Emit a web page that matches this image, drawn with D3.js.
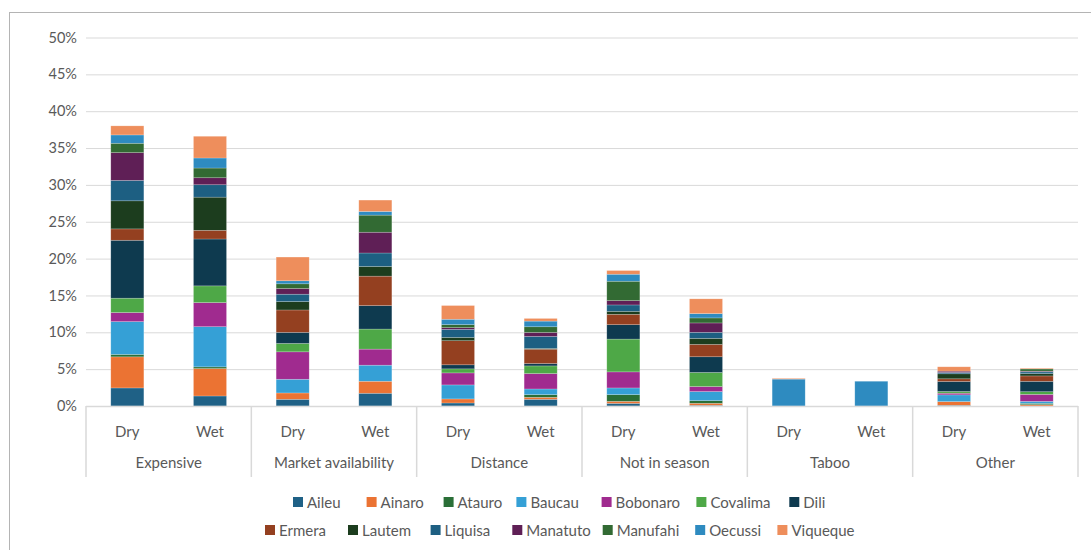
<!DOCTYPE html>
<html><head><meta charset="utf-8">
<script src="https://cdn.jsdelivr.net/npm/d3@7"></script>
<style>
html,body{margin:0;padding:0;background:#fff;}
svg text{font-family:Lato,"Noto Sans",sans-serif;fill:#595959;}
</style></head>
<body><svg id="chart" width="1091" height="550"></svg>
<script>
// ---- data (percent of respondents) ----
const reasons = ["Expensive","Market availability","Distance","Not in season","Taboo","Other"];
const seasons = ["Dry","Wet"];
const yTicks = [0,5,10,15,20,25,30,35,40,45,50];
const regions = ["Aileu","Ainaro","Atauro","Baucau","Bobonaro","Covalima","Dili","Ermera","Lautem","Liquisa","Manatuto","Manufahi","Oecussi","Viqueque"];
// each array: Expensive Dry, Wet, Market Dry, Wet, Distance Dry, Wet, Not in season Dry, Wet, Taboo Dry, Wet, Other Dry, Wet
const Aileu    = [2.45,1.36,0.91,1.73,0.41,0.91,0.36,0.10,0,0,0.10,0];
const Ainaro   = [4.22,3.72,0.86,1.63,0.55,0.27,0.27,0.27,0,0,0.50,0.18];
const Atauro   = [0.33,0.23,0,0,0,0.36,0.91,0.36,0,0,0,0.18];
const Baucau   = [4.45,5.45,1.86,2.18,1.90,0.77,0.91,1.23,0,0,0.91,0.27];
const Bobonaro = [1.23,3.27,3.72,2.18,1.63,2.09,2.18,0.68,0,0,0.23,0.95];
const Covalima = [1.95,2.27,1.14,2.72,0.55,1.04,4.45,1.91,0,0,0.23,0.36];
const Dili     = [7.86,6.36,1.50,3.18,0.55,0.32,1.95,2.13,0,0,1.36,1.41];
const Ermera   = [1.54,1.18,3.04,4.00,3.27,1.95,1.41,1.68,0,0,0.36,0.73];
const Lautem   = [3.81,4.50,1.14,1.32,0.45,0.10,0.41,0.82,0,0,0.68,0.32];
const Liquisa  = [2.77,1.68,1.00,1.82,1.09,1.63,0.86,0.82,0,0,0.18,0.23];
const Manatuto = [3.77,0.95,0.77,2.82,0.23,0.54,0.59,1.27,0,0,0.18,0.10];
const Manufahi = [1.27,1.32,0.64,2.32,0.41,0.77,2.63,0.68,0,0,0,0.30];
const Oecussi  = [1.13,1.36,0.41,0.50,0.73,0.77,0.95,0.59,3.65,3.36,0,0];
const Viqueque = [1.23,2.95,3.22,1.54,1.86,0.36,0.50,2.00,0.10,0,0.59,0.10];
const seriesValues = [Aileu,Ainaro,Atauro,Baucau,Bobonaro,Covalima,Dili,Ermera,Lautem,Liquisa,Manatuto,Manufahi,Oecussi,Viqueque];
const colors = ["#1f6186","#eb7333","#2a6f37","#35a0d6","#a02b8f","#4ea847","#0e3a4f","#944020","#1c3d1e","#1d5f82","#5f1f56","#326a33","#2e8bc0","#ee8e5c"];

// ---- layout ----
const svg = d3.select("#chart");
const plot = {left:86, right:1078, top:37.5, bottom:406};

// frame
svg.append("rect").attr("x",9.5).attr("y",12.5).attr("width",1200).attr("height",600)
  .attr("fill","none").attr("stroke","#b4b4b4").attr("stroke-width",1);

const y = d3.scaleLinear().domain([0,50]).range([plot.bottom, plot.top]);
const x0 = d3.scaleBand().domain(reasons).range([plot.left, plot.right]).padding(0);
const x1 = d3.scaleBand().domain(seasons).range([0, x0.bandwidth()]).paddingInner(0.6).paddingOuter(0.3);

// gridlines + y labels
const yAxis = d3.axisLeft(y).tickValues(yTicks).tickSize(-(plot.right-plot.left)).tickPadding(9)
  .tickFormat(d => d + "%");
const gy = svg.append("g").attr("transform",`translate(${plot.left},0)`).call(yAxis);
gy.select(".domain").remove();
gy.selectAll(".tick line").attr("stroke","#d9d9d9").attr("stroke-width",1);
gy.selectAll(".tick text").attr("font-size","14.5px").style("fill","#595959");

// stacked data
const rows = [];
reasons.forEach((r,i) => seasons.forEach((s,j) => {
  const row = {reason:r, season:s};
  regions.forEach((g,k) => row[g] = seriesValues[k][i*2+j]);
  rows.push(row);
}));
const stack = d3.stack().keys(regions)(rows);

const bars = svg.append("g");
stack.forEach((layer,k) => {
  bars.append("g").attr("fill",colors[k])
    .selectAll("rect").data(layer).join("rect")
    .attr("x", d => x0(d.data.reason) + x1(d.data.season))
    .attr("width", x1.bandwidth())
    .attr("y", d => y(d[1]))
    .attr("height", d => Math.max(0, y(d[0]) - y(d[1])))
    .attr("stroke", d => (d[1]-d[0])>0 ? "rgba(255,255,255,0.35)" : "none")
    .attr("stroke-width",0.6);
});

// category axis (two levels)
const ax = svg.append("g");
ax.append("line").attr("x1",plot.left).attr("x2",plot.right).attr("y1",plot.bottom+0.5).attr("y2",plot.bottom+0.5)
  .attr("stroke","#d9d9d9").attr("stroke-width",1.5);
const seps = reasons.map(r => x0(r)).concat([plot.right]);
ax.selectAll("line.sep").data(seps).join("line").attr("class","sep")
  .attr("x1",d=>d).attr("x2",d=>d).attr("y1",plot.bottom).attr("y2",477)
  .attr("stroke","#d9d9d9").attr("stroke-width",1.5);
reasons.forEach(r => {
  seasons.forEach(s => {
    ax.append("text").attr("x", x0(r)+x1(s)+x1.bandwidth()/2).attr("y",436.5)
      .attr("text-anchor","middle").attr("font-size","15px").text(s);
  });
  ax.append("text").attr("x", x0(r)+x0.bandwidth()/2).attr("y",468)
    .attr("text-anchor","middle").attr("font-size","15px").text(r);
});

// legend (two rows)
const legendRows = [regions.slice(0,7), regions.slice(7)];
const legendX = [[293,366.6,443.6,516.4,601.6,696.4,789.3],[265,348,430.6,512.3,602.7,695.2,777.4]];
const legendY = [502,530];
const lg = svg.append("g");
legendRows.forEach((row,ri) => row.forEach((name,ci) => {
  const k = regions.indexOf(name);
  const g = lg.append("g").attr("transform",`translate(${legendX[ri][ci]},${legendY[ri]})`);
  g.append("rect").attr("x",0).attr("y",-5).attr("width",10).attr("height",10).attr("fill",colors[k]);
  g.append("text").attr("x",14).attr("y",5.5).attr("font-size","15px").text(name);
}));
</script></body></html>
